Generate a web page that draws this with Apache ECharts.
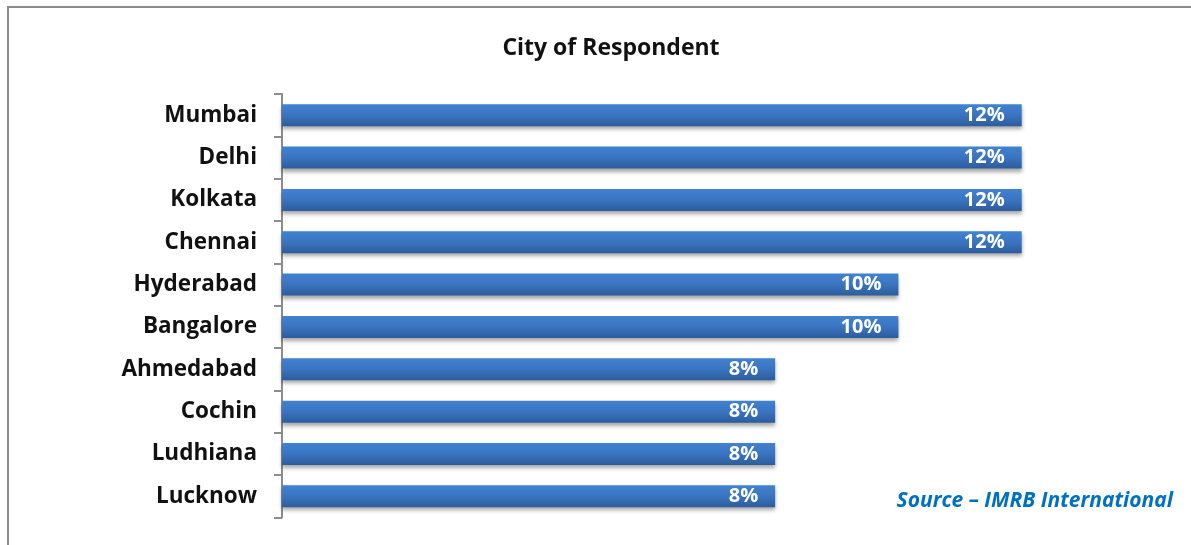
<!DOCTYPE html>
<html>
<head>
<meta charset="utf-8">
<style>
  html, body { margin: 0; padding: 0; background: #fff; }
  #chart { width: 1191px; height: 545px; }
</style>
<script src="https://cdn.jsdelivr.net/npm/echarts@6/dist/echarts.min.js"></script>
</head>
<body>
<div id="chart"></div>
<script>
// City-wise share of respondents (percent)
const cities = ['Mumbai', 'Delhi', 'Kolkata', 'Chennai', 'Hyderabad', 'Bangalore', 'Ahmedabad', 'Cochin', 'Ludhiana', 'Lucknow'];
const shares = [12, 12, 12, 12, 10, 10, 8, 8, 8, 8];

const chart = echarts.init(document.getElementById('chart'));
const FONT = '"Open Sans", Lato, sans-serif';

chart.setOption({
  animation: false,
  title: {
    text: 'City of Respondent',
    left: 606,
    textAlign: 'center',
    top: 32,
    textStyle: { fontFamily: FONT, fontWeight: 'bold', fontSize: 23, color: '#111' }
  },
  grid: { left: 282, right: 46, top: 94, bottom: 27.5, containLabel: false },
  xAxis: {
    type: 'value',
    min: 0,
    max: 14,
    show: false
  },
  yAxis: {
    type: 'category',
    data: cities,
    inverse: true,
    axisLine: { show: true, lineStyle: { color: '#8c8c8c', width: 2 } },
    axisTick: { show: true, length: 8, lineStyle: { color: '#8c8c8c', width: 2 } },
    axisLabel: {
      margin: 25,
      padding: [7, 0, 0, 0],
      fontFamily: FONT,
      fontWeight: 'bold',
      fontSize: 22.5,
      color: '#111'
    },
    splitLine: { show: false }
  },
  series: [{
    type: 'bar',
    data: shares,
    barWidth: 22,
    itemStyle: {
      color: new echarts.graphic.LinearGradient(0, 0, 0, 1, [
        { offset: 0, color: '#4182d2' },
        { offset: 0.5, color: '#3a74c0' },
        { offset: 1, color: '#2c5c9c' }
      ]),
      shadowColor: 'rgba(0,0,0,0.35)',
      shadowBlur: 4,
      shadowOffsetY: 3
    },
    label: {
      show: true,
      position: 'insideRight',
      distance: 17,
      padding: [6, 0, 0, 0],
      formatter: p => p.value + '%',
      fontFamily: FONT,
      fontWeight: 'bold',
      fontSize: 20,
      color: '#fff'
    }
  }],
  graphic: [
    {
      type: 'polyline',
      shape: { points: [[8, 545], [8, 7], [1191, 7]] },
      style: { stroke: '#8c8c8c', lineWidth: 2, fill: null }
    },
    {
      type: 'text',
      right: 18,
      top: 491,
      style: {
        text: 'Source \u2013 IMRB International',
        fontFamily: FONT,
        fontStyle: 'italic',
        fontWeight: 'bold',
        fontSize: 21,
        fill: '#0070c0'
      }
    }
  ]
});
</script>
</body>
</html>
